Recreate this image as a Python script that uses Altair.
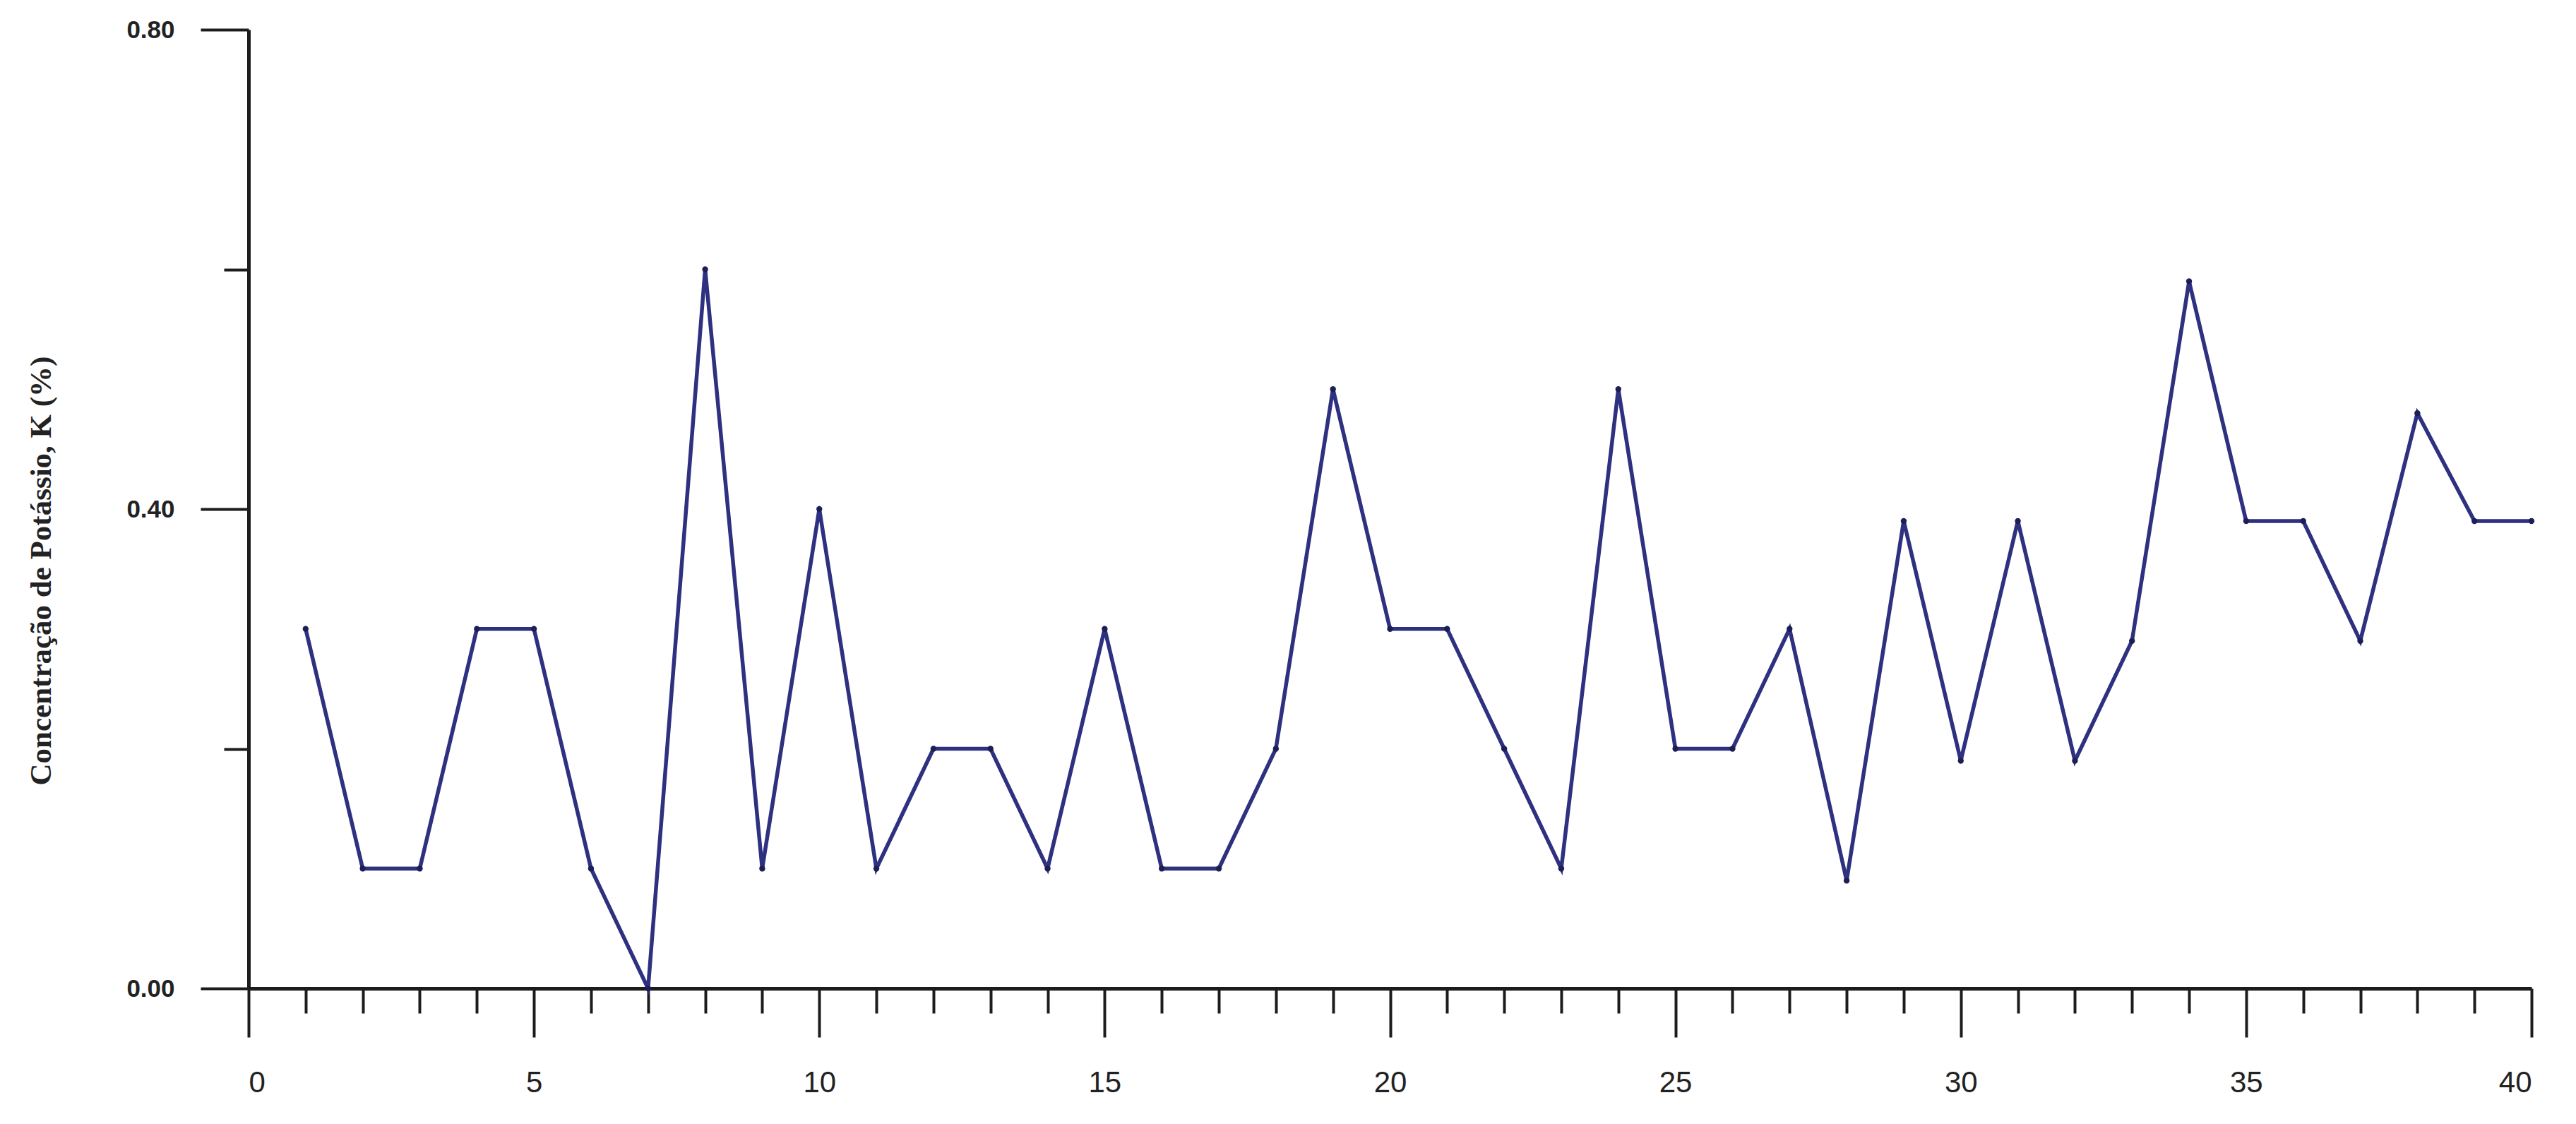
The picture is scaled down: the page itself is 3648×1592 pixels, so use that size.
import altair as alt
import pandas as pd

# --- data ---
amostra = list(range(1, 41))
potassio = [0.30, 0.10, 0.10, 0.30, 0.30, 0.10, 0.00, 0.60, 0.10, 0.40,
            0.10, 0.20, 0.20, 0.10, 0.30, 0.10, 0.10, 0.20, 0.50, 0.30,
            0.30, 0.20, 0.10, 0.50, 0.20, 0.20, 0.30, 0.09, 0.39, 0.19,
            0.39, 0.19, 0.29, 0.59, 0.39, 0.39, 0.29, 0.48, 0.39, 0.39]
x_major = [0, 5, 10, 15, 20, 25, 30, 35, 40]
x_minor = [v for v in range(0, 41) if v % 5 != 0]
y_major = [0.0, 0.4, 0.8]
y_minor = [0.2, 0.6]
y_title = "Concentração de Potássio, K (%)"

df = pd.DataFrame({"amostra": amostra, "K": potassio})

LINE = "#2e3080"
AX = "#1c1c1c"
xscale = alt.Scale(domain=[0, 40], nice=False, zero=False)
yscale = alt.Scale(domain=[0, 0.8], nice=False)

common = dict(grid=False, domainColor=AX, domainWidth=5, tickColor=AX, tickWidth=4)

x_major_axis = alt.Axis(
    values=x_major, title=None, orient="bottom",
    labelExpr="format(datum.value, 'd')",
    tickSize=69, labelFont="Liberation Sans", labelFontSize=42,
    labelPadding=44, labelColor="#222222", **common,
)
y_major_axis = alt.Axis(
    values=y_major, title=y_title, orient="left",
    format=".2f", tickSize=68,
    labelFont="Liberation Sans", labelFontWeight="bold", labelFontSize=35,
    labelPadding=37, labelColor="#222222",
    titleFont="Liberation Serif", titleFontSize=43, titleFontWeight="bold",
    titleColor="#222222", titleAngle=270, titleAlign="center",
    titleBaseline="middle", titleX=-294, titleY=766,
    **common,
)
x_minor_axis = alt.Axis(
    values=x_minor, title=None, orient="bottom", labels=False, domain=False,
    tickSize=35, grid=False, tickColor=AX, tickWidth=4,
)
y_minor_axis = alt.Axis(
    values=y_minor, title=None, orient="left", labels=False, domain=False,
    tickSize=35, grid=False, tickColor=AX, tickWidth=4,
)

base = alt.Chart(df)
line = base.mark_line(color=LINE, strokeWidth=5.5).encode(
    x=alt.X("amostra:Q", scale=xscale, axis=x_major_axis),
    y=alt.Y("K:Q", scale=yscale, axis=y_major_axis),
)
pts = base.mark_point(filled=True, size=70, color="#1d1e55", opacity=1).encode(
    x=alt.X("amostra:Q", scale=xscale, axis=x_minor_axis),
    y=alt.Y("K:Q", scale=yscale, axis=y_minor_axis),
)

chart = (
    alt.layer(line, pts)
    .resolve_scale(x="shared", y="shared")
    .resolve_axis(x="independent", y="independent")
    .properties(
        width=3233,
        height=1358,
        autosize=alt.AutoSizeParams(type="none"),
        padding={"left": 344, "top": 34, "right": 50, "bottom": 176},
        background="white",
    )
    .configure_view(stroke=None)
)

chart.save("out.html", embed_options={"renderer": "svg", "actions": False})
